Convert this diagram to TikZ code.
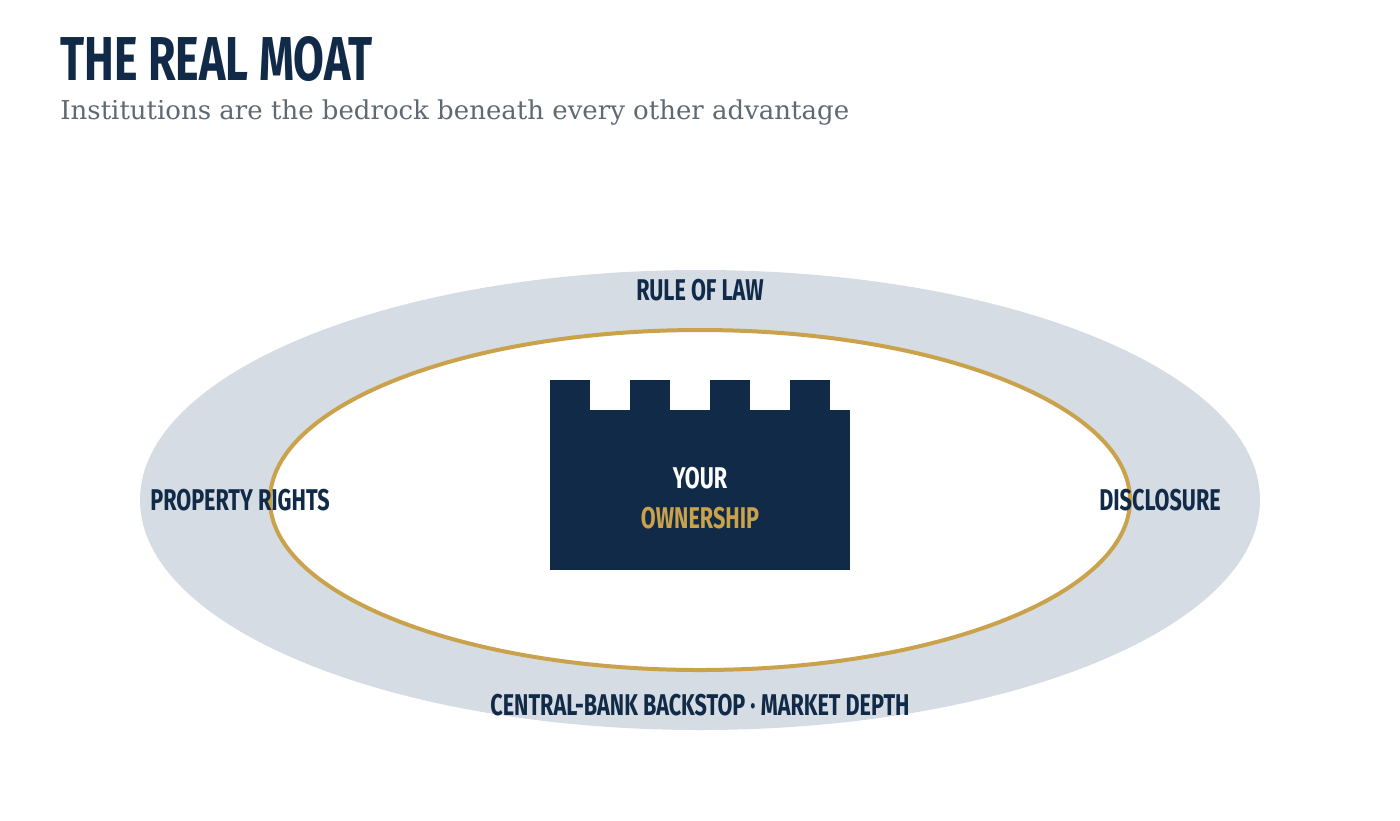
\documentclass[tikz,border=0pt]{standalone}
\usepackage{fontspec}
\setmainfont{DejaVu Serif}
\newfontfamily\bebas[FakeStretch=0.72]{Fira Sans}
\usetikzlibrary{positioning}
\definecolor{navy}{HTML}{112A47}
\definecolor{gold}{HTML}{C9A24B}
\definecolor{moat}{HTML}{D5DCE4}
\definecolor{subgray}{HTML}{5F6973}
\tikzset{
  ring label/.style={font=\bebas\bfseries\fontsize{15}{15}\selectfont, text=navy, inner sep=0pt},
}
\begin{document}
\begin{tikzpicture}[x=0.5pt,y=-0.5pt]
  \useasboundingbox (0,0) rectangle (1400,820);

  % Title
  \node[anchor=base west, inner sep=0pt, text=navy, font=\bebas\bfseries\fontsize{31}{31}\selectfont] (title) at (60,80) {THE REAL MOAT};
  \node[anchor=base west, inner sep=0pt, text=subgray, font=\fontsize{13}{13}\selectfont] (subtitle) at (60,119) {Institutions are the bedrock beneath every other advantage};

  % Moat
  \fill[moat] (700,500) ellipse [x radius=560, y radius=230];
  \fill[white] (700,500) ellipse [x radius=430, y radius=170];
  \draw[gold, line width=2pt] (700,500) ellipse [x radius=430, y radius=170];

  % Castle
  \fill[navy] (550,410) rectangle (850,570);
  \foreach \x in {550,630,710,790}
    \fill[navy] (\x,380) rectangle (\x+40,411);
  \node[ring label, text=white] (your) at (700,478) {YOUR};
  \node[ring label, text=gold] (owner) at (700,518) {OWNERSHIP};

  % Ring labels
  \node[ring label] (law) at (700,290) {RULE OF LAW};
  \node[ring label] (prop) at (240,500) {PROPERTY RIGHTS};
  \node[ring label] (disc) at (1160,500) {DISCLOSURE};
  \node[ring label] (bank) at (700,705) {CENTRAL-BANK BACKSTOP · MARKET DEPTH};
\end{tikzpicture}
\end{document}
